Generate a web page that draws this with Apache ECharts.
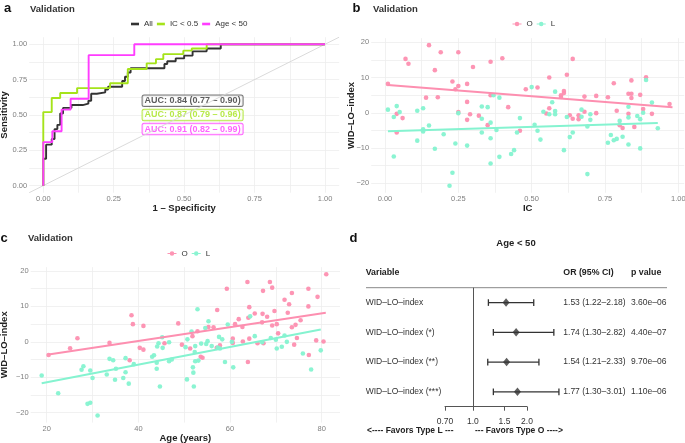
<!DOCTYPE html>
<html>
<head>
<meta charset="utf-8">
<title>Validation</title>
<script src="https://cdn.jsdelivr.net/npm/echarts@6/dist/echarts.min.js"></script>
<style>
  html, body { margin: 0; padding: 0; background: #fff; }
  #chart { width: 685px; height: 443px; }
</style>
</head>
<body>
<div id="chart"></div>
<script>
const FONT = '"Liberation Sans", Arial, sans-serif';

// a: ROC curves, [1 - specificity, sensitivity] (drawn as steps)
const rocAll = [[0,0],[0.01,0.19],[0.03,0.29],[0.04,0.33],[0.05,0.40],[0.06,0.43],[0.07,0.51],[0.10,0.55],[0.14,0.57],[0.16,0.58],[0.17,0.60],[0.19,0.65],[0.22,0.66],[0.23,0.68],[0.28,0.70],[0.29,0.74],[0.30,0.77],[0.31,0.80],[0.43,0.83],[0.44,0.86],[0.47,0.88],[0.50,0.90],[0.53,0.92],[0.58,0.95],[0.63,0.97],[1,1]];
const rocIC = [[0,0],[0.03,0.52],[0.06,0.62],[0.12,0.655],[0.237,0.69],[0.30,0.724],[0.367,0.825],[0.40,0.865],[0.426,0.895],[0.497,0.93],[0.527,0.955],[0.58,0.97],[1,1]];
const rocAge = [[0,0],[0.032,0.308],[0.065,0.385],[0.097,0.538],[0.161,0.615],[0.323,0.923],[1,1]];
const rocNames = ['All', 'IC < 0.5', 'Age < 50'];
const aucText = ['AUC: 0.84 (0.77 – 0.90)', 'AUC: 0.87 (0.79 – 0.96)', 'AUC: 0.91 (0.82 – 0.99)'];
const rocTicks = [0, 0.25, 0.5, 0.75, 1];
const rocMinor = [0.125, 0.375, 0.625, 0.875];

// b: WID-LO-index vs IC
const icO = [[0.01,8.2],[0.07,15.3],[0.08,13.9],[0.15,19.2],[0.17,12.1],[0.19,17.2],[0.25,17.2],[0.30,13.0],[0.36,14.5],[0.40,15.5],[0.64,15.3],[0.14,4.3],[0.18,4.4],[0.23,8.9],[0.24,6.7],[0.25,7.6],[0.28,8.2],[0.28,3.1],[0.25,0.2],[0.29,-0.4],[0.28,-2.0],[0.32,-0.8],[0.35,-3.5],[0.36,5.0],[0.42,1.6],[0.46,-5.1],[0.48,6.7],[0.52,7.2],[0.56,10.0],[0.56,1.3],[0.55,-0.2],[0.60,5.0],[0.60,4.5],[0.61,6.2],[0.61,5.6],[0.62,10.8],[0.63,-0.7],[0.64,-1.7],[0.66,-0.7],[0.66,-1.8],[0.68,4.6],[0.68,0.3],[0.72,4.8],[0.72,-0.1],[0.76,4.4],[0.78,8.4],[0.79,0.6],[0.80,-3.5],[0.81,-4.3],[0.83,5.4],[0.84,5.4],[0.84,4.2],[0.84,9.2],[0.83,-0.3],[0.85,-4.0],[0.87,5.1],[0.88,1.1],[0.89,10.1],[0.91,-0.3],[0.97,2.5],[0.04,-0.3],[0.06,-1.5],[0.04,-5.6]];
const icL = [[0.01,0.9],[0.03,-1.2],[0.04,1.9],[0.05,0.2],[0.03,-12.4],[0.11,0.6],[0.11,-7.9],[0.13,1.3],[0.13,-4.7],[0.13,-5.3],[0.15,-3.6],[0.17,-10.2],[0.20,-6.1],[0.23,-17.0],[0.22,-20.7],[0.24,-8.7],[0.25,-0.1],[0.28,-9.3],[0.33,1.8],[0.35,1.6],[0.33,-1.7],[0.33,-5.6],[0.36,-2.8],[0.36,-7.2],[0.36,-14.4],[0.37,5.0],[0.39,4.3],[0.38,-4.9],[0.39,-12.5],[0.43,-11.7],[0.44,-10.6],[0.45,-5.6],[0.46,-1.5],[0.50,7.3],[0.51,-3.4],[0.52,-5.1],[0.53,-7.6],[0.54,0.3],[0.56,-0.4],[0.57,3.0],[0.58,6.0],[0.58,0.5],[0.58,-0.4],[0.61,-10.6],[0.62,-1.2],[0.63,-6.9],[0.64,-5.6],[0.67,0.9],[0.67,-1.1],[0.70,-0.4],[0.70,-2.0],[0.69,-3.9],[0.69,-17.4],[0.76,-8.5],[0.77,-6.3],[0.78,-7.8],[0.79,-7.4],[0.81,-6.8],[0.80,-2.3],[0.83,1.7],[0.83,-1.3],[0.83,-9.0],[0.86,-0.9],[0.87,-1.8],[0.87,-10.1],[0.88,0.0],[0.89,9.3],[0.91,2.9],[0.93,-4.4]];
const icFitO = [[0.01,7.9],[0.98,1.6]];
const icFitL = [[0.01,-5.2],[0.93,-2.9]];
const icTicks = [0, 0.25, 0.5, 0.75, 1];
const icMinor = [0.125, 0.375, 0.625, 0.875];

// c: WID-LO-index vs age
const ageO = [[20.4,-3.7],[25.1,-1.8],[26.7,1.0],[33.7,-0.3],[38.1,-5.2],[38.5,7.5],[38.8,5.0],[40.3,-1.7],[41.1,-2.2],[41.1,4.5],[45.7,-0.4],[48.7,5.2],[49.5,-0.8],[51.3,-1.9],[51.8,1.6],[52.9,3.0],[53.6,-4.2],[54.0,-4.5],[55.3,4.2],[56.4,4.1],[57.2,9.0],[57.1,-1.7],[57.8,-1.0],[59.3,15.0],[60.6,0.9],[60.6,-0.3],[61.1,5.0],[61.9,6.4],[62.8,0.1],[62.7,4.2],[63.8,16.9],[63.9,-5.7],[64.0,6.8],[64.2,9.8],[64.2,0.9],[65.4,8.0],[66.0,-0.4],[67.2,14.4],[67.1,7.9],[67.0,5.5],[67.3,-0.4],[68.1,7.1],[68.7,16.9],[69.2,15.3],[69.7,8.7],[69.2,4.6],[70.2,5.0],[70.5,2.4],[71.9,11.9],[72.9,10.6],[72.6,8.2],[73.5,13.8],[73.5,4.1],[74.3,4.8],[74.0,-0.8],[74.6,1.1],[75.4,6.1],[77.1,15.0],[77.1,10.0],[77.2,-3.7],[79.1,12.7],[78.8,0.4],[80.4,0.1],[81.0,19.1]];
const ageL = [[18.9,-9.5],[22.5,-14.5],[27.6,-7.9],[28.0,-6.9],[28.9,-17.5],[29.5,-17.2],[29.5,-8.1],[30.0,-10.2],[31.1,-20.8],[33.1,-9.2],[33.7,-4.8],[34.5,-5.2],[34.9,-10.7],[35.1,-7.6],[36.7,-10.2],[37.2,-4.6],[37.2,-8.6],[37.9,-11.8],[39.0,-6.3],[43.0,-4.2],[43.4,-3.8],[44.0,-5.9],[44.0,-7.6],[44.1,-1.3],[44.4,-0.4],[44.7,-12.6],[45.2,1.3],[45.3,-1.7],[46.7,-0.1],[46.7,-5.5],[47.3,-5.0],[50.3,-1.5],[50.7,0.7],[50.6,-10.6],[51.6,2.9],[51.9,-7.2],[52.0,-8.7],[52.1,-12.6],[52.3,-2.9],[52.4,-1.2],[52.4,-5.5],[52.9,9.2],[53.1,-5.3],[53.7,-0.5],[54.6,3.9],[54.8,-0.6],[55.3,5.8],[55.1,0.2],[56.0,-1.2],[57.6,1.4],[58.3,0.7],[57.8,-1.9],[57.3,-1.6],[58.9,-5.7],[59.5,4.9],[60.4,0.0],[60.7,-7.2],[64.4,7.2],[65.4,1.6],[67.0,-0.1],[68.9,1.1],[70.2,-1.9],[70.0,0.6],[71.3,-1.4],[71.9,1.8],[72.4,0.0],[75.9,-3.3],[77.7,-7.8],[79.8,-2.4]];
const ageFitO = [[20.4,-3.6],[80.9,8.2]];
const ageFitL = [[18.9,-11.7],[79.8,3.5]];
const ageTicks = [20, 40, 60, 80];
const ageMinor = [30, 50, 70];

const wlTicks = [-20, -10, 0, 10, 20];
const wlMinor = [-15, -5, 5, 15];

// d: forest plot, Age < 50
const forestVars = ['WID–LO–index', 'WID–LO–index (*)', 'WID–LO–index (**)', 'WID–LO–index (***)'];
const orMid = [1.53, 1.74, 1.54, 1.77];
const orLow = [1.22, 1.30, 1.21, 1.30];
const orHigh = [2.18, 2.82, 2.33, 3.01];
const pText = ['3.60e–06', '4.40e–07', '9.70e–06', '1.10e–06'];
const orTicks = [0.70, 1.0, 1.5, 2.0];
const orTickLabels = ['0.70', '1.0', '1.5', '2.0'];

const rocColors = ['#333333', '#a5e31a', '#ff3cff'];
const PINK = '#fd8fb0';
const TEAL = '#85f3d0';
const keyIcon = 'path://M0,3.3H16V4.7H0Z M12,4A4,4 0 1,1 4,4A4,4 0 1,1 12,4Z';

const minus = v => (v < 0 ? '\u2212' + Math.abs(v) : String(v));

function panelAxis(gridIndex, min, max, major, minor, fmt, name, nameGap) {
  return {
    type: 'value', gridIndex, min, max,
    name, nameLocation: 'middle', nameGap, nameMoveOverlap: false,
    nameTextStyle: { fontSize: 9.5, fontWeight: 'bold', color: '#222', fontFamily: FONT },
    axisLine: { show: false },
    axisTick: { show: false, customValues: major.concat(minor) },
    axisLabel: { customValues: major, formatter: fmt, fontSize: 7.5, color: '#808080', margin: 2, fontFamily: FONT },
    splitLine: { show: true, lineStyle: { color: '#ededed', width: 0.8 } }
  };
}

function text(x, y, str, size, weight, align, color) {
  return {
    type: 'text', x, y, silent: true,
    style: { text: str, fontSize: size, fontWeight: weight, fontFamily: FONT,
      fill: color || '#222', align: align || 'left', verticalAlign: 'middle' }
  };
}

function scatter(name, data, xi, color) {
  return { name, type: 'scatter', xAxisIndex: xi, yAxisIndex: xi, data,
    symbolSize: 4.6, itemStyle: { color, opacity: 0.95 }, silent: true };
}

function fitLine(name, data, xi, color) {
  return { name, type: 'line', xAxisIndex: xi, yAxisIndex: xi, data,
    symbol: 'none', lineStyle: { color, width: 2 }, silent: true };
}

function rocLine(name, data, color) {
  return { name, type: 'line', xAxisIndex: 0, yAxisIndex: 0, data, step: 'start',
    symbol: 'none', itemStyle: { color }, lineStyle: { color, width: 1.9 }, silent: true };
}

// error bars of the forest plot
function renderCI(params, api) {
  const row = api.value(0);
  const lo = api.coord([api.value(1), row]);
  const hi = api.coord([api.value(2), row]);
  const cap = 3.3;
  const st = { stroke: '#333', lineWidth: 1.3 };
  return { type: 'group', children: [
    { type: 'line', shape: { x1: lo[0], y1: lo[1], x2: hi[0], y2: hi[1] }, style: st },
    { type: 'line', shape: { x1: lo[0], y1: lo[1] - cap, x2: lo[0], y2: lo[1] + cap }, style: st },
    { type: 'line', shape: { x1: hi[0], y1: hi[1] - cap, x2: hi[0], y2: hi[1] + cap }, style: st }
  ] };
}

// table columns of the forest plot
function renderRow(params, api) {
  const i = params.dataIndex;
  const y = api.coord([0, api.value(0)])[1];
  const orStr = orMid[i].toFixed(2) + ' (' + orLow[i].toFixed(2) + '–' + orHigh[i].toFixed(2) + ')';
  const cell = (x, s) => ({ type: 'text', x, y,
    style: { text: s, fontSize: 8.5, fontFamily: FONT, fill: '#333', align: 'left', verticalAlign: 'middle' } });
  return { type: 'group', children: [cell(365.7, forestVars[i]), cell(563.3, orStr), cell(631, pText[i])] };
}

const chart = echarts.init(document.getElementById('chart'));

const rows = forestVars.map((v, i) => i + 1);

chart.setOption({
  animation: false,
  textStyle: { fontFamily: FONT },
  grid: [
    { left: 29.2, top: 37.2, width: 309.9, height: 155.5, outerBoundsMode: 'none' },
    { left: 371.2, top: 38.1, width: 313, height: 154.7, outerBoundsMode: 'none' },
    { left: 30.7, top: 267.1, width: 309.3, height: 155.5, outerBoundsMode: 'none' },
    { left: 445, top: 287.7, width: 82, height: 119, outerBoundsMode: 'none' }
  ],
  legend: [
    {
      data: rocNames, left: 131, top: 20, padding: 0, itemGap: 4,
      icon: 'rect', itemWidth: 8, itemHeight: 2.6,
      textStyle: { fontSize: 8, color: '#333', fontFamily: FONT }
    },
    {
      data: [{ name: 'O', icon: keyIcon }, { name: 'L', icon: keyIcon }],
      left: 512.5, top: 20, padding: 0, itemGap: 4, itemWidth: 9, itemHeight: 4.5,
      textStyle: { fontSize: 8, color: '#333', fontFamily: FONT }
    },
    {
      data: [{ name: 'O', icon: keyIcon }, { name: 'L', icon: keyIcon }],
      left: 167.5, top: 249.5, padding: 0, itemGap: 4, itemWidth: 9, itemHeight: 4.5,
      textStyle: { fontSize: 8, color: '#333', fontFamily: FONT }
    }
  ],
  xAxis: [
    panelAxis(0, -0.05, 1.05, rocTicks, rocMinor, v => v.toFixed(2), '1 – Specificity', 10.5),
    panelAxis(1, -0.047, 1.02, icTicks, icMinor, v => v.toFixed(2), 'IC', 11),
    panelAxis(2, 16.5, 84, ageTicks, ageMinor, minus, 'Age (years)', 11),
    {
      type: 'value', gridIndex: 3, min: Math.log(0.7), max: Math.log(2),
      axisLine: { show: true, lineStyle: { color: '#555', width: 1 } },
      axisTick: { show: true, inside: false, length: 4, customValues: orTicks.map(Math.log),
        lineStyle: { color: '#555', width: 1 } },
      axisLabel: {
        customValues: orTicks.map(Math.log), fontSize: 8.5, color: '#333', margin: 10,
        formatter: v => {
          const i = orTicks.findIndex(t => Math.abs(Math.log(t) - v) < 1e-6);
          return i >= 0 ? orTickLabels[i] : '';
        }
      },
      splitLine: { show: false }
    }
  ],
  yAxis: [
    panelAxis(0, -0.05, 1.05, rocTicks, rocMinor, v => v.toFixed(2), 'Sensitivity', 19.5),
    panelAxis(1, -22.7, 21.2, wlTicks, wlMinor, minus, 'WID–LO–index', 15),
    panelAxis(2, -22.8, 21.1, wlTicks, wlMinor, minus, 'WID–LO–index', 21),
    { type: 'value', gridIndex: 3, min: 0.5, max: 4.5, inverse: true, show: false }
  ],
  series: [
    {
      type: 'line', xAxisIndex: 0, yAxisIndex: 0, data: [[-0.05, -0.05], [1.05, 1.05]],
      symbol: 'none', lineStyle: { color: '#d6d6d6', width: 0.9 }, silent: true
    },
    rocLine(rocNames[0], rocAll, rocColors[0]),
    rocLine(rocNames[1], rocIC, rocColors[1]),
    rocLine(rocNames[2], rocAge, rocColors[2]),
    {
      type: 'scatter', xAxisIndex: 0, yAxisIndex: 0, symbolSize: 1, silent: true,
      itemStyle: { color: 'transparent' },
      data: aucText.map((t, i) => ({
        value: [0.53, 0.6 - 0.1 * i],
        label: {
          show: true, position: 'inside', formatter: t,
          fontSize: 9, fontWeight: 'bold', fontFamily: FONT, lineHeight: 9,
          color: rocColors[i], borderColor: i === 0 ? '#555' : rocColors[i],
          borderWidth: 1, borderRadius: 1.5, backgroundColor: '#fff', padding: [1, 2, 0.5, 2]
        }
      }))
    },
    scatter('O', icO, 1, PINK),
    scatter('L', icL, 1, TEAL),
    fitLine('O fit', icFitO, 1, PINK),
    fitLine('L fit', icFitL, 1, TEAL),
    scatter('O', ageO, 2, PINK),
    scatter('L', ageL, 2, TEAL),
    fitLine('O fit', ageFitO, 2, PINK),
    fitLine('L fit', ageFitL, 2, TEAL),
    {
      type: 'custom', xAxisIndex: 3, yAxisIndex: 3, renderItem: renderCI, silent: true,
      encode: { x: [1, 2], y: 0 },
      data: rows.map((r, i) => [r, Math.log(orLow[i]), Math.log(orHigh[i])]),
      markLine: {
        silent: true, symbol: 'none', label: { show: false },
        lineStyle: { color: '#555', width: 1, type: 'solid' },
        data: [{ xAxis: 0 }]
      }
    },
    {
      type: 'scatter', xAxisIndex: 3, yAxisIndex: 3, silent: true,
      symbol: 'diamond', symbolSize: [7, 8.5], itemStyle: { color: '#333' },
      data: rows.map((r, i) => [Math.log(orMid[i]), r])
    },
    {
      type: 'custom', xAxisIndex: 3, yAxisIndex: 3, renderItem: renderRow, silent: true,
      encode: { y: 0 }, data: rows.map(r => [r])
    }
  ],
  graphic: [
    text(4, 8.3, 'a', 13, 'bold', 'left', '#111'),
    text(30, 9.4, 'Validation', 9.5, 'bold', 'left', '#333'),
    text(352.5, 8.3, 'b', 13, 'bold', 'left', '#111'),
    text(373, 9.4, 'Validation', 9.5, 'bold', 'left', '#333'),
    text(0.5, 238, 'c', 13, 'bold', 'left', '#111'),
    text(28, 238.7, 'Validation', 9.5, 'bold', 'left', '#333'),
    text(349.5, 238, 'd', 13, 'bold', 'left', '#111'),
    text(516, 243.4, 'Age < 50', 9.5, 'bold', 'center', '#222'),
    text(365.7, 272.3, 'Variable', 8.8, 'bold', 'left', '#222'),
    text(563.3, 272.3, 'OR (95% CI)', 8.8, 'bold', 'left', '#222'),
    text(631, 272.3, 'p value', 8.8, 'bold', 'left', '#222'),
    {
      type: 'line', silent: true,
      shape: { x1: 366, y1: 287.7, x2: 667, y2: 287.7 },
      style: { stroke: '#888', lineWidth: 1 }
    },
    text(367, 431, '<---- Favors Type L ---', 8.5, 'bold', 'left', '#222'),
    text(475, 431, '--- Favors Type O ---->', 8.5, 'bold', 'left', '#222')
  ]
});

window.onresize = function () {
  chart.resize();
};
</script>
</body>
</html>
